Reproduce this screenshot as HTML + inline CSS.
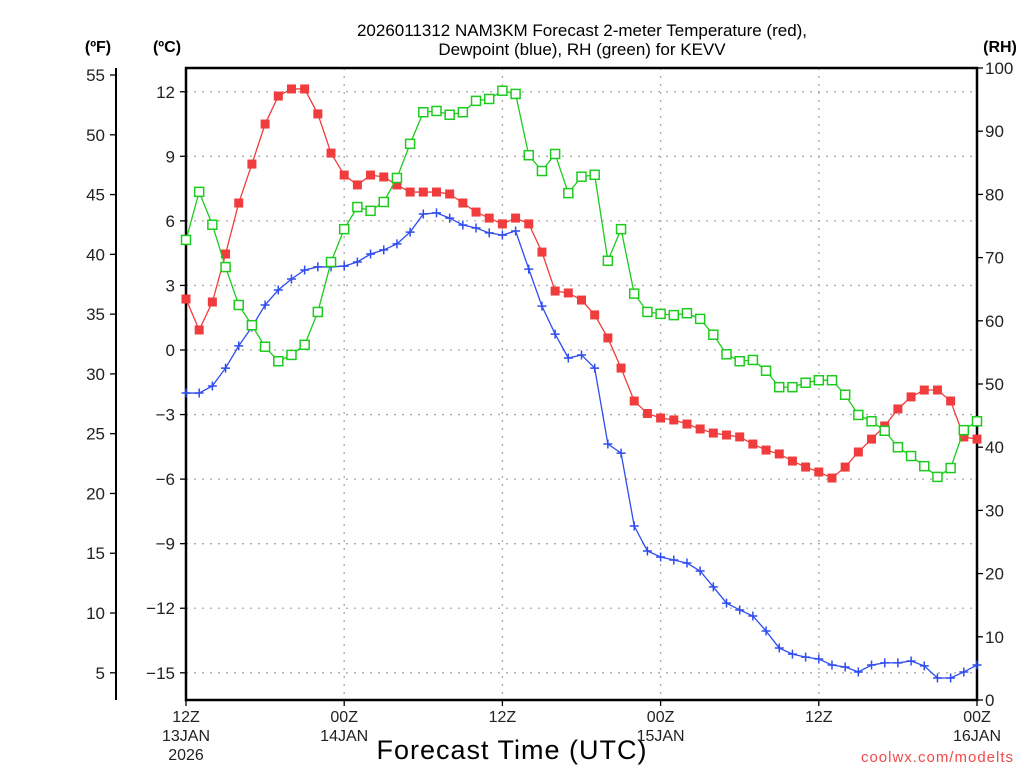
<!DOCTYPE html>
<html><head><meta charset="utf-8"><style>
html,body{margin:0;padding:0;background:#fff;}
svg text{font-family:"Liberation Sans","DejaVu Sans",sans-serif;}
</style></head><body>
<svg id="chart" width="1024" height="768" viewBox="0 0 1024 768" xmlns="http://www.w3.org/2000/svg">
<rect width="1024" height="768" fill="#fff"/>
<text x="582" y="36" text-anchor="middle" font-size="17" fill="#000">2026011312 NAM3KM Forecast 2-meter Temperature (red),</text>
<text x="582" y="55" text-anchor="middle" font-size="17" fill="#000">Dewpoint (blue), RH (green) for KEVV</text>
<text x="98" y="52" text-anchor="middle" font-size="16" font-weight="bold">(ºF)</text>
<text x="167" y="52" text-anchor="middle" font-size="16" font-weight="bold">(ºC)</text>
<text x="1000" y="52" text-anchor="middle" font-size="16" font-weight="bold">(RH)</text>
<text x="512" y="759" text-anchor="middle" font-size="27" letter-spacing="1">Forecast Time (UTC)</text>
<text x="1014" y="762" text-anchor="end" font-size="15" fill="#f04a4a" letter-spacing="1">coolwx.com/modelts</text>
<g id="grid"></g><g id="axes"></g><g id="series"></g>
</svg>
<script>
const temps=[2.37,0.93,2.23,4.46,6.83,8.64,10.5,11.8,12.13,12.13,10.97,9.15,8.13,7.67,8.13,8.04,7.67,7.34,7.34,7.34,7.25,6.83,6.41,6.13,5.86,6.13,5.86,4.55,2.74,2.65,2.32,1.63,0.56,-0.84,-2.37,-2.95,-3.16,-3.25,-3.44,-3.67,-3.86,-3.95,-4.04,-4.37,-4.65,-4.83,-5.16,-5.44,-5.67,-5.95,-5.44,-4.74,-4.14,-3.53,-2.74,-2.18,-1.86,-1.86,-2.37,-4.04,-4.14];
const dewpoints=[-2.0,-2.0,-1.67,-0.84,0.19,1.07,2.09,2.79,3.30,3.72,3.86,3.86,3.90,4.09,4.46,4.65,4.93,5.48,6.32,6.37,6.13,5.81,5.67,5.44,5.34,5.53,3.76,2.04,0.74,-0.37,-0.23,-0.84,-4.37,-4.79,-8.18,-9.34,-9.62,-9.76,-9.90,-10.27,-11.01,-11.76,-12.08,-12.36,-13.06,-13.85,-14.13,-14.27,-14.36,-14.64,-14.73,-14.96,-14.64,-14.54,-14.54,-14.45,-14.68,-15.24,-15.24,-14.96,-14.64];
const rh=[72.8,80.4,75.2,68.5,62.5,59.3,55.9,53.6,54.6,56.2,61.4,69.3,74.5,78.0,77.4,78.8,82.6,88.0,93.0,93.2,92.6,93.0,94.8,95.1,96.4,95.9,86.2,83.7,86.4,80.2,82.8,83.1,69.5,74.5,64.3,61.4,61.1,60.9,61.2,60.3,57.8,54.7,53.6,53.8,52.1,49.5,49.5,50.2,50.6,50.6,48.3,45.1,44.1,42.6,40.0,38.6,37.0,35.3,36.7,42.7,44.1];
const cTicks=[12,9,6,3,0,-3,-6,-9,-12,-15];
const fTicks=[55,50,45,40,35,30,25,20,15,10,5];
const rhTicks=[100,90,80,70,60,50,40,30,20,10,0];
const xTickHours=[0,12,24,36,48,60];
const xTickLabels=[["12Z","13JAN","2026"],["00Z","14JAN"],["12Z"],["00Z","15JAN"],["12Z"],["00Z","16JAN"]];

const L=186,R=977,T=68,B=700,NS="http://www.w3.org/2000/svg";
const xOf=h=>L+(R-L)*h/60;
const yC=c=>350-c*21.52;
const yF=f=>yC((f-32)/1.8);
const yRH=r=>B-(B-T)*r/100;
function mk(tag,attrs,parent,txt){const e=document.createElementNS(NS,tag);for(const k in attrs)e.setAttribute(k,attrs[k]);if(txt!==undefined)e.textContent=txt;parent.appendChild(e);return e;}
const grid=document.getElementById('grid'),axes=document.getElementById('axes'),series=document.getElementById('series');

cTicks.forEach(c=>{const y=yC(c);
 const g=mk('line',{x1:L,x2:R,y1:y,y2:y,stroke:'#aaa','stroke-width':1.3,'stroke-dasharray':'2 6'},grid);
 
 mk('line',{x1:180,x2:L,y1:y,y2:y,stroke:'#000','stroke-width':1.3},axes);
 const t=mk('text',{x:175,y:y+6,'text-anchor':'end','font-size':17,fill:'#222'},axes,c<0?'\u2212'+Math.abs(c):String(c));
 });
xTickHours.forEach((h,i)=>{const x=xOf(h);
 if(i>0&&i<xTickHours.length-1){const g=mk('line',{x1:x,x2:x,y1:T,y2:B,stroke:'#aaa','stroke-width':1.3,'stroke-dasharray':'2 6'},grid);
 }
 mk('line',{x1:x,x2:x,y1:B,y2:B+6,stroke:'#000','stroke-width':1.3},axes);
 xTickLabels[i].forEach((s,j)=>{const t=mk('text',{x:x,y:722+j*19,'text-anchor':'middle','font-size':16,fill:'#222'},axes,s);
 });});
fTicks.forEach(f=>{const y=yF(f);
 mk('line',{x1:110,x2:116,y1:y,y2:y,stroke:'#000','stroke-width':1.3},axes);
 const t=mk('text',{x:105,y:y+6,'text-anchor':'end','font-size':17,fill:'#222'},axes,String(f));
 });
rhTicks.forEach(r=>{const y=yRH(r);
 mk('line',{x1:R,x2:R+6,y1:y,y2:y,stroke:'#000','stroke-width':1.3},axes);
 const t=mk('text',{x:985,y:y+6,'text-anchor':'start','font-size':17,fill:'#222'},axes,String(r));
 });
mk('line',{x1:116,x2:116,y1:T,y2:B,stroke:'#000','stroke-width':2},axes);
const fr=mk('rect',{x:L,y:T,width:R-L,height:B-T,fill:'none',stroke:'#000','stroke-width':2.5},axes);


function drawSeries(vals,yfn,color,kind,name){
 const pts=vals.map((v,i)=>[xOf(i),yfn(v)]);
 const pl=mk('polyline',{points:pts.map(p=>p.join(',')).join(' '),fill:'none',stroke:color,'stroke-width':1.3},series);
 
 pts.forEach(([x,y])=>{let m;
  if(kind==='fill'){m=mk('rect',{x:x-4.5,y:y-4.5,width:9,height:9,fill:color},series);}
  else if(kind==='open'){m=mk('rect',{x:x-4.5,y:y-4.5,width:9,height:9,fill:'#fff',stroke:color,'stroke-width':1.5},series);}
  else{m=mk('path',{d:`M${x-4.5},${y}H${x+4.5}M${x},${y-4.5}V${y+4.5}`,stroke:color,'stroke-width':1.5},series);}
  });
}
drawSeries(temps,yC,'#f03c3c','fill','temperature');
drawSeries(dewpoints,yC,'#2e4cf0','plus','dewpoint');
drawSeries(rh,yRH,'#1ccc1c','open','relative-humidity');
</script>
</body></html>
